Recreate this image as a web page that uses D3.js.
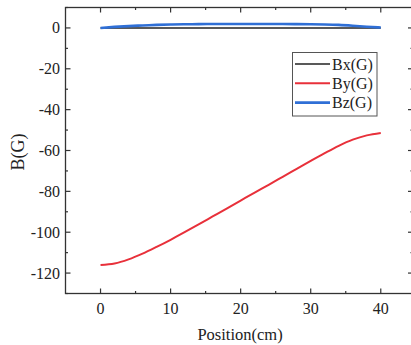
<!DOCTYPE html>
<html><head><meta charset="utf-8">
<script src="https://cdn.jsdelivr.net/npm/d3@7"></script>
<style>body{margin:0;background:#fff}svg{display:block}
text{font-family:"Liberation Serif","DejaVu Serif","Times New Roman",serif;}</style>
</head><body>
<svg id="c" width="411" height="345"></svg>
<script>
const positions = [0,2,4,6,8,10,12,14,16,18,20,22,24,26,28,30,32,34,36,38,40];
const bx = [0,0,0,0,0,0,0,0,0,0,0,0,0,0,0,0,0,0,0,0,0];
const by = [-116,-115.3,-113.3,-110.5,-107.2,-103.7,-100,-96.2,-92.3,-88.4,-84.5,-80.6,-76.8,-72.9,-69,-65.1,-61.3,-57.7,-54.7,-52.6,-51.4];
const bz = [0,0.5,0.9,1.2,1.5,1.7,1.8,1.85,1.9,1.9,1.9,1.9,1.9,1.9,1.85,1.8,1.7,1.5,1.1,0.6,0.2];
const seriesNames = ["Bx(G)","By(G)","Bz(G)"];
const seriesColors = ["#222222","#e8303a","#2f6fd6"];
const xTicks = [0,10,20,30,40];
const xMinor = [5,15,25,35];
const yTicks = [0,-20,-40,-60,-80,-100,-120];
const yMinor = [-10,-30,-50,-70,-90,-110,-130,10];

const svg = d3.select("#c");
const L=65.5, R=413, T=7.5, B=293.5;
const x = d3.scaleLinear().domain([-5,44.6]).range([L,R]);
const y = d3.scaleLinear().domain([-130,10]).range([B,T]);
const axisCol="#333";

svg.append("rect").attr("x",L).attr("y",T).attr("width",R-L).attr("height",B-T)
  .attr("fill","none").attr("stroke",axisCol).attr("stroke-width",1.3);

const g = svg.append("g").attr("stroke",axisCol).attr("stroke-width",1.2);
xTicks.forEach(v=>{g.append("line").attr("x1",x(v)).attr("x2",x(v)).attr("y1",B).attr("y2",B-5);
  g.append("line").attr("x1",x(v)).attr("x2",x(v)).attr("y1",T).attr("y2",T+5);});
xMinor.forEach(v=>{g.append("line").attr("x1",x(v)).attr("x2",x(v)).attr("y1",B).attr("y2",B-2.5);
  g.append("line").attr("x1",x(v)).attr("x2",x(v)).attr("y1",T).attr("y2",T+2.5);});
yTicks.forEach(v=>{g.append("line").attr("x1",L).attr("x2",L+5).attr("y1",y(v)).attr("y2",y(v));
  g.append("line").attr("x1",R).attr("x2",R-5).attr("y1",y(v)).attr("y2",y(v));});
yMinor.forEach(v=>{g.append("line").attr("x1",L).attr("x2",L+2.5).attr("y1",y(v)).attr("y2",y(v));
  g.append("line").attr("x1",R).attr("x2",R-2.5).attr("y1",y(v)).attr("y2",y(v));});

svg.selectAll(".xl").data(xTicks).enter().append("text").attr("x",d=>x(d)).attr("y",313.5)
  .attr("text-anchor","middle").attr("font-size",16).attr("fill","#222").text(d=>d);
svg.selectAll(".yl").data(yTicks).enter().append("text").attr("x",60).attr("y",d=>y(d)+5.5)
  .attr("text-anchor","end").attr("font-size",16).attr("fill","#222").text(d=>d);

svg.append("text").attr("x",240).attr("y",340).attr("text-anchor","middle")
  .attr("font-size",16.5).attr("fill","#222").text("Position(cm)");
svg.append("text").attr("transform","translate(24,152) rotate(-90)").attr("text-anchor","middle")
  .attr("font-size",18).attr("fill","#222").text("B(G)");

const data=[bx,by,bz];
const widths=[1.5,2,2.6];
const line = d3.line().x((d,i)=>x(positions[i])).y(d=>y(d)).curve(d3.curveMonotoneX);
[0,2,1].forEach(k=>{
  svg.append("path").datum(data[k]).attr("d",line).attr("fill","none")
    .attr("stroke",seriesColors[k]).attr("stroke-width",widths[k]);
});

const lg = svg.append("g");
lg.append("rect").attr("x",292.5).attr("y",52.5).attr("width",84.5).attr("height",63.5)
  .attr("fill","#fff").attr("stroke","#555").attr("stroke-width",1);
seriesNames.forEach((n,i)=>{
  const yy=64+i*19.3;
  lg.append("line").attr("x1",295).attr("x2",330).attr("y1",yy).attr("y2",yy)
    .attr("stroke",seriesColors[i]).attr("stroke-width",widths[i]);
  lg.append("text").attr("x",332).attr("y",yy+5.5).attr("font-size",16)
    .attr("fill","#222").text(n);
});
</script>
</body></html>
